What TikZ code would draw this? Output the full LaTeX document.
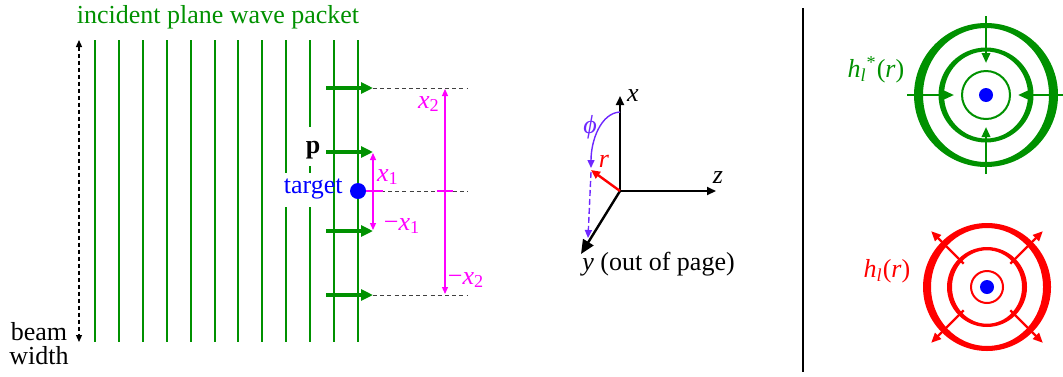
\documentclass[tikz,border=0pt]{standalone}
\usepackage{fontspec}
\setmainfont{Liberation Serif}
\usetikzlibrary{arrows.meta}

\definecolor{wavegreen}{RGB}{0,145,0}
\definecolor{sepmag}{RGB}{255,0,255}
\definecolor{phiviolet}{RGB}{110,40,255}

% italic symbol in the text font
\newcommand{\sym}[1]{\textit{#1}}
% thick ring: round outer edge, slightly oval inner edge
\newcommand{\thickring}[5]{%
  \fill[#1,even odd rule] (#2) circle (#3) (#2) ellipse [x radius=#4, y radius=#5];}

\begin{document}
\begin{tikzpicture}[x=0.5pt,y=-0.5pt,font=\fontsize{13}{15}\selectfont,
  front/.style={wavegreen,line width=1pt},
  momentum/.style={wavegreen,line width=1.6pt,-{Triangle[length=6pt,width=5.5pt]}},
  guide/.style={black!75,line width=0.5pt,dash pattern=on 2pt off 1.6pt},
  sep/.style={sepmag,line width=0.6pt,{Triangle[length=3.5pt,width=3pt]}-{Triangle[length=3.5pt,width=3pt]}},
  axis/.style={black,line width=1pt,-{Triangle[length=4.5pt,width=4pt]}},
  inarrow/.style={wavegreen,line width=1.1pt,-{Triangle[length=5pt,width=4.2pt]}},
  outarrow/.style={red,line width=1.2pt,-{Triangle[length=5pt,width=4.2pt]}},
  dot/.style={circle,fill=blue,inner sep=0pt,minimum size=#1}]
  \useasboundingbox (0,0) rectangle (1063,376);

  % incident wave fronts
  \node[wavegreen] (title) at (218,17) {incident plane wave packet};
  \foreach \i in {0,...,7,10,11}
    \draw[front] (95+23.9*\i,40) -- ++(0,302);
  \draw[front] (286,40) -- (286,173) (286,207) -- (286,342);
  \draw[front] (310,40) -- (310,127) (310,166) -- (310,173) (310,207) -- (310,342);

  % beam width
  \coordinate (bwtop) at (79,40);
  \coordinate (bwbot) at (79,342);
  \draw[black,line width=0.6pt,dash pattern=on 2pt off 1.5pt,
    {Triangle[length=3.5pt,width=3pt]}-{Triangle[length=3.5pt,width=3pt]}] (bwtop) -- (bwbot);
  \node[align=center,inner sep=0pt] (bwlabel) at (39,344) {beam\\[-3pt]width};

  % target and momentum
  \node[dot=8pt] (tgt) at (358,191) {};
  \node[blue,anchor=east,inner sep=0pt] (tgtlabel) at (343,189) {target};
  \node[inner sep=0pt] (plabel) at (313,150) {\textbf{p}};
  \foreach \y/\n in {88/a,152/b,231/c,295/d}{
    \coordinate (m\n s) at (326,\y);
    \coordinate (m\n e) at (373,\y);
    \draw[momentum] (m\n s) -- (m\n e);
  }

  % impact parameters
  \coordinate (ga) at (468,88);
  \coordinate (gb) at (468,191);
  \coordinate (gd) at (468,295);
  \draw[guide] (mae) -- (ga);
  \draw[guide] (tgt.east) -- (gb);
  \draw[guide] (mde) -- (gd);
  \coordinate (xonetop) at (373,153);
  \coordinate (xonebot) at (373,230);
  \coordinate (xtwotop) at (445,89);
  \coordinate (xtwobot) at (445,294);
  \draw[sep] (xonetop) -- (xonebot);
  \draw[sep] (xtwotop) -- (xtwobot);
  \draw[sepmag,line width=0.6pt] (tgt.east) -- (383,191) (437,191) -- (453,191);
  \node[sepmag] (xone) at (388,177) {\sym{x}\textsubscript{1}};
  \node[sepmag] (mxone) at (402,226) {−\sym{x}\textsubscript{1}};
  \node[sepmag] (xtwo) at (429,104) {\sym{x}\textsubscript{2}};
  \node[sepmag] (mxtwo) at (466,280) {−\sym{x}\textsubscript{2}};

  % axes
  \coordinate (O) at (620,191);
  \coordinate (xtip) at (620,96);
  \coordinate (ztip) at (716,191);
  \coordinate (ytip) at (581,254);
  \coordinate (rtip) at (591,170);
  \draw[axis] (O) -- (xtip);
  \draw[axis] (O) -- (ztip);
  \draw[black,line width=1.2pt,-{Triangle[length=7pt,width=6pt]}] (O) -- (ytip);
  \node (xlab) at (633,96) {\sym{x}};
  \node (zlab) at (718,178) {\sym{z}};
  \node[anchor=west,inner sep=0pt] (ylab) at (582,264) {\sym{y} (out of page)};
  \draw[red,line width=1.2pt,-{Triangle[length=4.5pt,width=4pt]}] (O) -- (rtip);
  \node[red] (rlab) at (604,161) {\sym{r}};
  \coordinate (phistart) at (620,112);
  \coordinate (phiend) at (591,168);
  \coordinate (phiproj) at (588,238);
  \draw[phiviolet,line width=0.7pt,-{Triangle[length=4pt,width=3.5pt]}]
    (phistart) .. controls (601,113) and (591,140) .. (phiend);
  \draw[phiviolet,line width=0.7pt,dash pattern=on 3pt off 1.5pt,-{Triangle[length=4pt,width=3.5pt]}]
    (591,172) -- (phiproj);
  \node[phiviolet] (philab) at (590,127) {\sym{ϕ}};

  % divider
  \draw[black,line width=0.6pt] (803,8) -- (803,372);

  % incoming spherical wave
  \coordinate (hin) at (986,95);
  \thickring{wavegreen}{hin}{72}{63}{67}
  \thickring{wavegreen}{hin}{47.5}{42}{43.5}
  \draw[wavegreen,line width=1pt] (hin) circle (24);
  \node[dot=7pt] (tgtin) at (hin) {};
  \foreach \a in {0,90,180,270}
    \draw[inarrow] (hin) ++(\a:79) -- ++(\a:-47);
  \node[wavegreen] (hinlab) at (876,70) {\sym{h}\textsubscript{\sym{l}}\textsuperscript{*}(\sym{r})};

  % outgoing spherical wave
  \coordinate (hout) at (987,287);
  \thickring{red}{hout}{64}{56}{59}
  \thickring{red}{hout}{40}{35}{36.7}
  \draw[red,line width=1pt] (hout) circle (16);
  \node[dot=7pt] (tgtout) at (hout) {};
  \foreach \a in {45,135,225,315}
    \draw[outarrow] (hout) ++(\a:33) -- ++(\a:46);
  \node[red] (houtlab) at (887,271) {\sym{h}\textsubscript{\sym{l}}(\sym{r})};
\end{tikzpicture}
\end{document}
